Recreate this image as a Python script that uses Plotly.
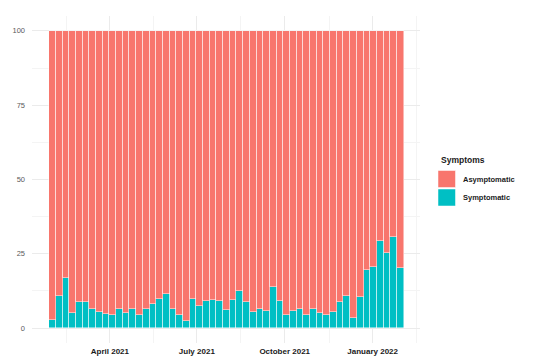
import pandas as pd
import plotly.graph_objects as go

weeks = pd.date_range("2021-01-31", periods=53, freq="7D").strftime("%Y-%m-%d").tolist()

symptomatic = [2.9, 10.9, 16.7, 5.0, 8.8, 8.8, 6.6, 5.3, 4.6, 4.3,
               6.4, 5.0, 6.3, 4.4, 6.6, 8.2, 9.8, 11.4, 6.6, 4.3,
               2.5, 9.8, 7.3, 9.0, 9.5, 9.0, 6.0, 9.6, 12.6, 8.7,
               5.5, 6.3, 5.9, 13.7, 9.0, 4.5, 5.6, 6.5, 4.4, 6.5,
               5.2, 4.5, 5.3, 8.7, 10.8, 3.5, 10.4, 19.7, 20.5, 29.2,
               25.3, 30.8, 20.1]
asymptomatic = [97.1, 89.1, 83.3, 95.0, 91.2, 91.2, 93.4, 94.7, 95.4, 95.7,
                93.6, 95.0, 93.7, 95.6, 93.4, 91.8, 90.2, 88.6, 93.4, 95.7,
                97.5, 90.2, 92.7, 91.0, 90.5, 91.0, 94.0, 90.4, 87.4, 91.3,
                94.5, 93.7, 94.1, 86.3, 91.0, 95.5, 94.4, 93.5, 95.6, 93.5,
                94.8, 95.5, 94.7, 91.3, 89.2, 96.5, 89.6, 80.3, 79.5, 70.8,
                74.7, 69.2, 79.9]

x_tickvals = ["2021-04-01", "2021-07-01", "2021-10-01", "2022-01-01"]
x_ticktext = ["April 2021", "July 2021", "October 2021", "January 2022"]
x_minor = ["2021-02-14 12:00", "2021-05-16 12:00", "2021-08-15 12:00",
           "2021-11-16 12:00", "2022-02-15 12:00"]
y_tickvals = [0, 25, 50, 75, 100]
y_minor = [12.5, 37.5, 62.5, 87.5]

COL_ASYM = "#F8766D"
COL_SYM = "#00BFC4"
FONT = "Liberation Sans, Arial, sans-serif"
OFF = 8  # page body margin
W, H = 556 - OFF, 362 - OFF
L, R, T, B = 32 - OFF, 136, 16 - OFF, 19
PW, PH = W - L - R, H - T - B

# helpers: convert page pixel coordinates to paper coordinates
def px(x):
    return (x - OFF - L) / PW

def py(y):
    return (H - B - (y - OFF)) / PH

week_ms = 7 * 24 * 3600 * 1000

fig = go.Figure()
fig.add_trace(go.Bar(x=weeks, y=symptomatic, name="Symptomatic", width=week_ms,
                     marker=dict(color=COL_SYM, line=dict(color="rgba(255,255,255,0.8)", width=0.6)),
                     showlegend=False))
fig.add_trace(go.Bar(x=weeks, y=asymptomatic, name="Asymptomatic", width=week_ms,
                     marker=dict(color=COL_ASYM, line=dict(color="rgba(255,255,255,0.8)", width=0.6)),
                     showlegend=False))

fig.update_layout(
    barmode="stack", bargap=0,
    width=W, height=H,
    margin=dict(l=L, r=R, t=T, b=B, pad=0, autoexpand=False),
    plot_bgcolor="white", paper_bgcolor="white",
    font=dict(family=FONT),
    xaxis=dict(type="date", range=["2021-01-09 12:00", "2022-02-19 14:00"],
               tickmode="array", tickvals=x_tickvals, ticktext=x_ticktext,
               tickfont=dict(size=8, color="#1a1a1a", weight="bold", family=FONT),
               showgrid=True, gridcolor="#EBEBEB", gridwidth=1,
               minor=dict(tickmode="array", tickvals=x_minor, showgrid=True,
                          gridcolor="#F4F4F4", gridwidth=0.6),
               zeroline=False, showline=False, ticks="", ticklabelstandoff=2,
               automargin=False),
    yaxis=dict(range=[-5, 105], tickmode="array", tickvals=y_tickvals,
               tickfont=dict(size=7.5, color="#5a5a5a", family=FONT),
               showgrid=True, gridcolor="#EBEBEB", gridwidth=1,
               minor=dict(tickmode="array", tickvals=y_minor, showgrid=True,
                          gridcolor="#F4F4F4", gridwidth=0.6),
               zeroline=False, showline=False, ticks="", ticklabelstandoff=6,
               automargin=False),
)

# manual legend
fig.add_annotation(x=px(438.5), y=py(160), xref="paper", yref="paper", text="<b>Symptoms</b>",
                   showarrow=False, xanchor="left", yanchor="middle",
                   font=dict(size=8.5, color="#1a1a1a", family=FONT))
for (y0, y1, col, lab) in [(170.5, 187.5, COL_ASYM, "Asymptomatic"),
                           (189.0, 206.0, COL_SYM, "Symptomatic")]:
    fig.add_shape(type="rect", xref="paper", yref="paper",
                  x0=px(438), x1=px(455.5), y0=py(y1), y1=py(y0),
                  fillcolor=col, line=dict(color="white", width=0.5))
    fig.add_annotation(x=px(461), y=py((y0 + y1) / 2), xref="paper", yref="paper",
                       text="<b>" + lab + "</b>", showarrow=False,
                       xanchor="left", yanchor="middle",
                       font=dict(size=7.5, color="#1a1a1a", family=FONT))

fig.write_html("out.html")
